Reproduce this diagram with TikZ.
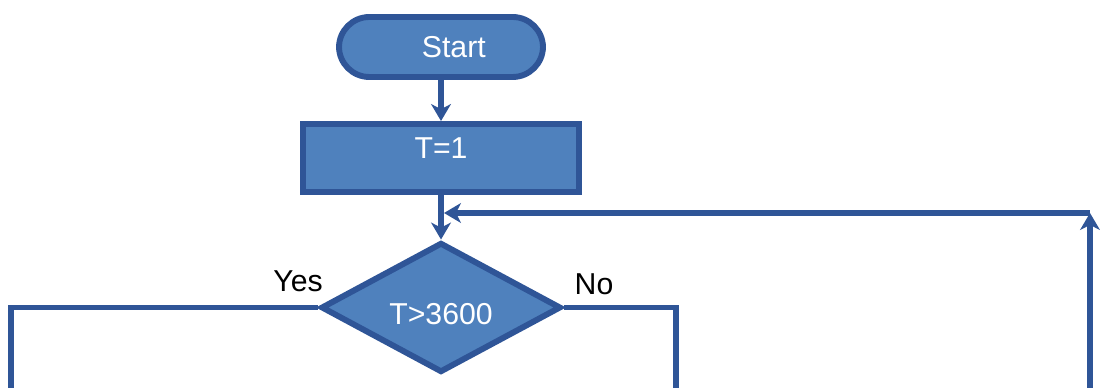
\documentclass[tikz,border=0pt]{standalone}
\usepackage{fontspec}
\setmainfont{Liberation Sans}
\usetikzlibrary{shapes.geometric,arrows.meta}
\definecolor{boxfill}{HTML}{4F81BD}
\definecolor{boxline}{HTML}{2F5597}
\begin{document}
\begin{tikzpicture}[font=\fontsize{21.5}{26}\selectfont]
    \tikzstyle{terminal} = [rectangle, rounded corners=0.76cm, draw=boxline, line width=4.2pt, fill=boxfill, text=white, minimum width=5.1cm, minimum height=1.5cm]
    \tikzstyle{process} = [rectangle, draw=boxline, line width=4.2pt, fill=boxfill, text=white, minimum width=6.9cm, minimum height=1.7cm, text height=0.55cm, text depth=0.5cm]
    \tikzstyle{decision} = [diamond, aspect=1.85, draw=boxline, line width=4.2pt, fill=boxfill, text=white, minimum width=6.0cm, minimum height=3.25cm, text height=0.83cm, text depth=0cm]
    \tikzstyle{line} = [draw=boxline, line width=4.2pt]
    \tikzstyle{arrow} = [line, -{Stealth[length=12pt,width=14pt,inset=3.5pt]}]
    \useasboundingbox (0,0) rectangle (27.5,9.7);

    % Steps
    \node [terminal] (start) at (11.025,8.525) {\hspace*{0.64cm}Start};
    \node [process] (init) at (11.025,5.75) {T=1};
    \node [decision] (test) at (11.025,2.0125) {T>3600};

    % Branch labels
    \node (yes) at (7.45,2.68) {Yes};
    \node (no) at (14.85,2.6) {No};

    % Loop points and open ends
    \coordinate (merge) at (11.1,4.375);
    \coordinate (corner) at (27.25,4.375);
    \coordinate (loopin) at (27.25,-0.2);
    \coordinate (yesout) at (0.275,-0.2);
    \coordinate (noout) at (16.9,-0.2);

    % Connections
    \draw [arrow] (start) -- (init);
    \draw [arrow] (init) -- (test);
    \draw [arrow] (loopin) -- (corner);
    \draw [arrow] (corner) -- (merge);
    \draw [line] (test.west) -| (yesout);
    \draw [line] (test.east) -| (noout);
\end{tikzpicture}
\end{document}
